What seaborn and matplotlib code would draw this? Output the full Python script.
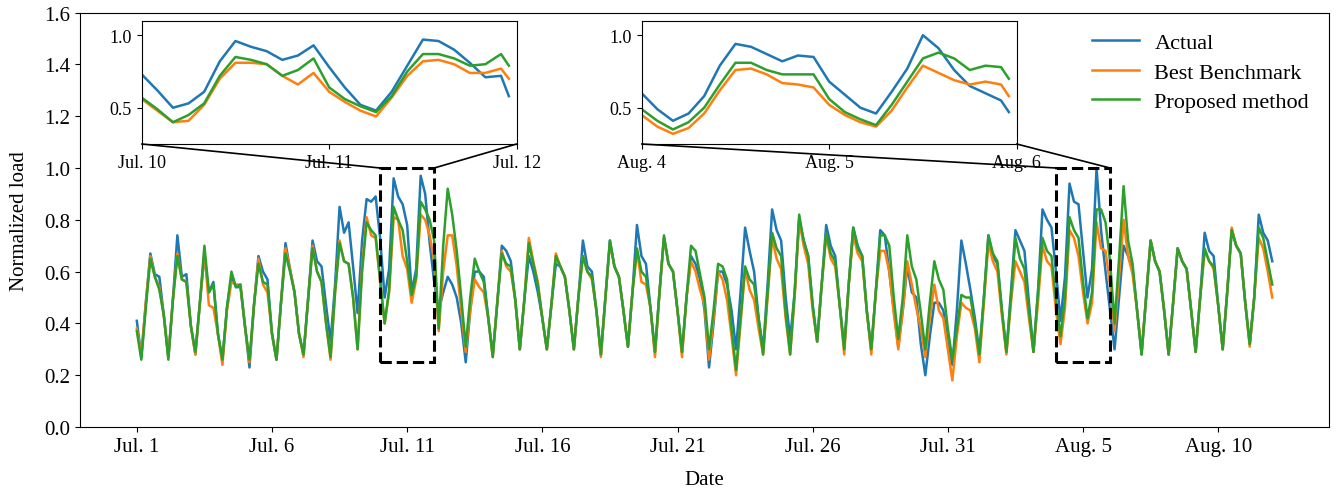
import numpy as np
import pandas as pd
import seaborn as sns
import matplotlib
matplotlib.use("Agg")
import matplotlib.pyplot as plt
from matplotlib.patches import Rectangle, ConnectionPatch

plt.rcParams['font.family'] = ['Liberation Serif', 'DejaVu Sans']

series_names = ["Actual", "Best Benchmark", "Proposed method"]
colors = ["#1f77b4", "#ff7f0e", "#2ca02c"]

# main series: one row per day (Jul 1 .. Aug 11), samples at 0, 4, 8, 12, 16, 20 h
main_hours = [0, 4, 8, 12, 16, 20]
tick_days = [0, 5, 10, 15, 20, 25, 30, 35, 40]
tick_labels = ["Jul. 1", "Jul. 6", "Jul. 11", "Jul. 16", "Jul. 21",
               "Jul. 26", "Jul. 31", "Aug. 5", "Aug. 10"]

actual = [
    [0.41, 0.27, 0.48, 0.67, 0.59, 0.58], [0.43, 0.27, 0.49, 0.74, 0.58, 0.59],
    [0.39, 0.28, 0.48, 0.66, 0.52, 0.56], [0.36, 0.26, 0.46, 0.58, 0.54, 0.54],
    [0.39, 0.23, 0.47, 0.66, 0.60, 0.57], [0.36, 0.26, 0.48, 0.71, 0.61, 0.52],
    [0.36, 0.28, 0.49, 0.72, 0.64, 0.62], [0.47, 0.33, 0.55, 0.85, 0.75, 0.79],
    [0.62, 0.44, 0.72, 0.88, 0.87, 0.89], [0.73, 0.50, 0.61, 0.96, 0.89, 0.86],
    [0.78, 0.52, 0.61, 0.97, 0.90, 0.71], [0.56, 0.45, 0.52, 0.58, 0.55, 0.50],
    [0.40, 0.25, 0.45, 0.60, 0.60, 0.58], [0.42, 0.28, 0.48, 0.70, 0.68, 0.64],
    [0.49, 0.30, 0.49, 0.66, 0.60, 0.52], [0.42, 0.30, 0.47, 0.63, 0.62, 0.58],
    [0.45, 0.30, 0.50, 0.72, 0.62, 0.60], [0.45, 0.28, 0.50, 0.72, 0.62, 0.58],
    [0.45, 0.31, 0.52, 0.78, 0.66, 0.63], [0.46, 0.29, 0.52, 0.73, 0.63, 0.60],
    [0.45, 0.29, 0.50, 0.66, 0.63, 0.57], [0.45, 0.23, 0.40, 0.60, 0.60, 0.55],
    [0.45, 0.30, 0.52, 0.77, 0.68, 0.60], [0.42, 0.30, 0.55, 0.84, 0.76, 0.72],
    [0.50, 0.34, 0.52, 0.80, 0.72, 0.66], [0.47, 0.33, 0.55, 0.78, 0.70, 0.66],
    [0.47, 0.31, 0.55, 0.77, 0.70, 0.66], [0.45, 0.30, 0.52, 0.76, 0.74, 0.60],
    [0.45, 0.31, 0.45, 0.62, 0.52, 0.50], [0.32, 0.20, 0.35, 0.48, 0.48, 0.45],
    [0.32, 0.24, 0.45, 0.72, 0.63, 0.53], [0.42, 0.29, 0.50, 0.74, 0.66, 0.63],
    [0.45, 0.29, 0.52, 0.76, 0.72, 0.68], [0.48, 0.29, 0.52, 0.84, 0.80, 0.77],
    [0.60, 0.41, 0.58, 0.94, 0.87, 0.86], [0.68, 0.50, 0.61, 1.00, 0.76, 0.60],
    [0.45, 0.30, 0.50, 0.70, 0.66, 0.61], [0.45, 0.28, 0.50, 0.72, 0.64, 0.60],
    [0.45, 0.28, 0.48, 0.69, 0.64, 0.61], [0.45, 0.29, 0.50, 0.75, 0.68, 0.66],
    [0.47, 0.30, 0.52, 0.76, 0.70, 0.67], [0.48, 0.32, 0.50, 0.82, 0.75, 0.72],
]
actual_last = 0.64

benchmark = [
    [0.38, 0.28, 0.48, 0.66, 0.58, 0.54], [0.43, 0.27, 0.49, 0.67, 0.57, 0.56],
    [0.39, 0.28, 0.48, 0.68, 0.47, 0.46], [0.36, 0.24, 0.45, 0.56, 0.55, 0.55],
    [0.39, 0.25, 0.47, 0.65, 0.55, 0.52], [0.36, 0.26, 0.48, 0.69, 0.61, 0.52],
    [0.36, 0.27, 0.49, 0.70, 0.60, 0.56], [0.40, 0.26, 0.52, 0.72, 0.64, 0.63],
    [0.50, 0.30, 0.62, 0.81, 0.74, 0.73], [0.56, 0.40, 0.52, 0.81, 0.80, 0.66],
    [0.61, 0.48, 0.57, 0.82, 0.80, 0.74], [0.64, 0.37, 0.60, 0.74, 0.74, 0.62],
    [0.45, 0.29, 0.45, 0.57, 0.54, 0.52], [0.42, 0.27, 0.48, 0.68, 0.62, 0.60],
    [0.49, 0.30, 0.49, 0.73, 0.64, 0.56], [0.42, 0.30, 0.47, 0.67, 0.62, 0.58],
    [0.45, 0.30, 0.50, 0.66, 0.60, 0.57], [0.45, 0.27, 0.50, 0.71, 0.62, 0.58],
    [0.45, 0.31, 0.52, 0.68, 0.56, 0.55], [0.46, 0.27, 0.52, 0.73, 0.63, 0.60],
    [0.45, 0.27, 0.50, 0.64, 0.60, 0.53], [0.47, 0.26, 0.42, 0.60, 0.57, 0.49],
    [0.35, 0.20, 0.40, 0.61, 0.53, 0.49], [0.38, 0.28, 0.50, 0.73, 0.65, 0.61],
    [0.42, 0.28, 0.50, 0.80, 0.70, 0.63], [0.45, 0.33, 0.55, 0.74, 0.65, 0.62],
    [0.47, 0.28, 0.55, 0.74, 0.67, 0.64], [0.45, 0.28, 0.52, 0.68, 0.68, 0.60],
    [0.44, 0.30, 0.45, 0.64, 0.55, 0.46], [0.38, 0.27, 0.42, 0.55, 0.45, 0.42],
    [0.30, 0.18, 0.35, 0.48, 0.46, 0.45], [0.38, 0.25, 0.48, 0.71, 0.64, 0.60],
    [0.43, 0.28, 0.48, 0.64, 0.60, 0.56], [0.42, 0.29, 0.48, 0.70, 0.64, 0.62],
    [0.45, 0.32, 0.46, 0.76, 0.73, 0.66], [0.52, 0.40, 0.48, 0.79, 0.69, 0.68],
    [0.55, 0.37, 0.58, 0.80, 0.66, 0.59], [0.45, 0.29, 0.50, 0.72, 0.64, 0.60],
    [0.45, 0.28, 0.48, 0.69, 0.64, 0.61], [0.45, 0.29, 0.50, 0.68, 0.64, 0.61],
    [0.47, 0.30, 0.52, 0.77, 0.70, 0.67], [0.48, 0.31, 0.50, 0.73, 0.69, 0.60],
]
benchmark_last = 0.50

proposed = [
    [0.37, 0.26, 0.46, 0.65, 0.58, 0.53], [0.43, 0.26, 0.49, 0.66, 0.57, 0.56],
    [0.39, 0.29, 0.48, 0.70, 0.52, 0.55], [0.36, 0.26, 0.46, 0.60, 0.54, 0.55],
    [0.39, 0.26, 0.47, 0.63, 0.56, 0.55], [0.36, 0.26, 0.48, 0.67, 0.60, 0.52],
    [0.36, 0.28, 0.49, 0.69, 0.60, 0.56], [0.40, 0.27, 0.52, 0.71, 0.64, 0.63],
    [0.50, 0.30, 0.60, 0.79, 0.76, 0.74], [0.57, 0.40, 0.53, 0.85, 0.80, 0.76],
    [0.64, 0.51, 0.58, 0.87, 0.84, 0.80], [0.72, 0.38, 0.70, 0.92, 0.82, 0.68],
    [0.50, 0.31, 0.50, 0.65, 0.60, 0.56], [0.42, 0.27, 0.48, 0.67, 0.63, 0.62],
    [0.49, 0.30, 0.49, 0.71, 0.63, 0.55], [0.42, 0.30, 0.47, 0.66, 0.62, 0.58],
    [0.45, 0.30, 0.50, 0.66, 0.60, 0.58], [0.45, 0.28, 0.50, 0.72, 0.62, 0.58],
    [0.45, 0.31, 0.52, 0.69, 0.60, 0.58], [0.46, 0.29, 0.52, 0.74, 0.63, 0.60],
    [0.45, 0.29, 0.50, 0.70, 0.68, 0.59], [0.50, 0.30, 0.45, 0.63, 0.62, 0.57],
    [0.38, 0.22, 0.42, 0.62, 0.57, 0.55], [0.42, 0.28, 0.52, 0.75, 0.69, 0.66],
    [0.44, 0.28, 0.52, 0.82, 0.72, 0.66], [0.47, 0.33, 0.55, 0.75, 0.67, 0.64],
    [0.47, 0.30, 0.55, 0.77, 0.69, 0.66], [0.45, 0.30, 0.52, 0.74, 0.74, 0.70],
    [0.50, 0.34, 0.50, 0.74, 0.62, 0.57], [0.44, 0.30, 0.48, 0.64, 0.57, 0.53],
    [0.38, 0.26, 0.38, 0.51, 0.50, 0.50], [0.40, 0.28, 0.50, 0.74, 0.67, 0.64],
    [0.45, 0.29, 0.50, 0.73, 0.65, 0.61], [0.45, 0.29, 0.52, 0.73, 0.68, 0.66],
    [0.49, 0.35, 0.50, 0.81, 0.76, 0.73], [0.56, 0.42, 0.52, 0.84, 0.84, 0.79],
    [0.64, 0.40, 0.65, 0.93, 0.72, 0.63], [0.45, 0.28, 0.50, 0.72, 0.64, 0.60],
    [0.45, 0.28, 0.48, 0.69, 0.64, 0.61], [0.45, 0.29, 0.50, 0.69, 0.64, 0.62],
    [0.47, 0.30, 0.52, 0.76, 0.70, 0.67], [0.48, 0.32, 0.50, 0.77, 0.73, 0.64],
]
proposed_last = 0.55

# zoomed windows, samples every 2 h over two days
inset_hours = list(range(0, 47, 2)) + [47]

jul10_start = 9
jul10_ticks = ["Jul. 10", "Jul. 11", "Jul. 12"]
jul10_actual = [0.73, 0.62, 0.50, 0.53, 0.61, 0.82, 0.96, 0.92, 0.89, 0.83, 0.86, 0.93,
                0.78, 0.64, 0.52, 0.48, 0.61, 0.79, 0.97, 0.96, 0.90, 0.81, 0.71, 0.72, 0.58]
jul10_benchmark = [0.56, 0.48, 0.40, 0.41, 0.52, 0.70, 0.81, 0.81, 0.80, 0.72, 0.66, 0.74,
                   0.61, 0.54, 0.48, 0.44, 0.57, 0.72, 0.82, 0.83, 0.80, 0.74, 0.74, 0.77, 0.70]
jul10_proposed = [0.57, 0.49, 0.40, 0.45, 0.53, 0.72, 0.85, 0.83, 0.80, 0.72, 0.76, 0.84,
                  0.64, 0.56, 0.51, 0.47, 0.58, 0.75, 0.87, 0.87, 0.84, 0.79, 0.80, 0.87, 0.79]

aug4_start = 34
aug4_ticks = ["Aug. 4", "Aug. 5", "Aug. 6"]
aug4_actual = [0.60, 0.49, 0.41, 0.46, 0.58, 0.79, 0.94, 0.92, 0.87, 0.82, 0.86, 0.85,
               0.68, 0.59, 0.50, 0.46, 0.61, 0.77, 1.00, 0.91, 0.76, 0.65, 0.60, 0.55, 0.47]
aug4_benchmark = [0.45, 0.37, 0.32, 0.36, 0.46, 0.62, 0.76, 0.77, 0.73, 0.67, 0.66, 0.64,
                  0.52, 0.45, 0.40, 0.37, 0.48, 0.64, 0.79, 0.74, 0.69, 0.66, 0.68, 0.66, 0.58]
aug4_proposed = [0.49, 0.41, 0.35, 0.40, 0.50, 0.66, 0.81, 0.81, 0.76, 0.73, 0.73, 0.73,
                 0.56, 0.47, 0.42, 0.38, 0.52, 0.68, 0.84, 0.88, 0.84, 0.76, 0.79, 0.78, 0.70]


def main_frame(daily, last, name):
    t = [d + h / 24 for d in range(len(daily)) for h in main_hours] + [len(daily)]
    v = [x for day in daily for x in day] + [last]
    return pd.DataFrame({"day": t, "load": v, "series": name})


def inset_frame(start, values):
    t = [start + h / 24 for h in inset_hours]
    parts = [pd.DataFrame({"day": t, "load": v, "series": n})
             for v, n in zip(values, series_names)]
    return pd.concat(parts, ignore_index=True)


df = pd.concat([main_frame(actual, actual_last, series_names[0]),
                main_frame(benchmark, benchmark_last, series_names[1]),
                main_frame(proposed, proposed_last, series_names[2])],
               ignore_index=True)

fig = plt.figure(figsize=(13.43, 4.89), dpi=100)
ax = fig.add_axes([0.0596, 0.1247, 0.93, 0.8475])

sns.lineplot(data=df, x="day", y="load", hue="series", hue_order=series_names,
             palette=colors, linewidth=1.8, ax=ax)
ax.set_xlim(-2.1, 44.1)
ax.set_ylim(0, 1.6)
ax.set_yticks(np.arange(0, 1.61, 0.2))
ax.set_xticks(tick_days, tick_labels)
ax.tick_params(labelsize=15)
ax.set_xlabel("Date", fontsize=15, labelpad=10)
ax.set_ylabel("Normalized load", fontsize=15, labelpad=11)
sns.move_legend(ax, "upper right", title=None, frameon=False, fontsize=16,
                labelspacing=0.4, handlelength=2.1, handletextpad=0.7)

insets = [
    ([0.1055, 0.7035, 0.2792, 0.2521], jul10_start, jul10_ticks,
     [jul10_actual, jul10_benchmark, jul10_proposed]),
    ([0.4778, 0.7035, 0.2792, 0.2521], aug4_start, aug4_ticks,
     [aug4_actual, aug4_benchmark, aug4_proposed]),
]

for rect, start, ticks, values in insets:
    ins = fig.add_axes(rect)
    sns.lineplot(data=inset_frame(start, values), x="day", y="load", hue="series",
                 hue_order=series_names, palette=colors, linewidth=1.8,
                 legend=False, ax=ins)
    ins.set_xlim(start, start + 2)
    ins.set_ylim(0.25, 1.1)
    ins.set_yticks([0.5, 1.0])
    ins.set_xticks([start, start + 1, start + 2], ticks)
    ins.tick_params(labelsize=13)
    ins.set_xlabel("")
    ins.set_ylabel("")

    ax.add_patch(Rectangle((start, 0.25), 2, 0.75, fill=False, ls="--",
                           lw=2.2, ec="black", zorder=5))
    for xa, xb in [(0, start), (1, start + 2)]:
        con = ConnectionPatch(xyA=(xa, 0), coordsA=ins.transAxes,
                              xyB=(xb, 1.0), coordsB=ax.transData,
                              color="black", lw=1.2)
        fig.add_artist(con)

fig.savefig("out.png", dpi=100)
